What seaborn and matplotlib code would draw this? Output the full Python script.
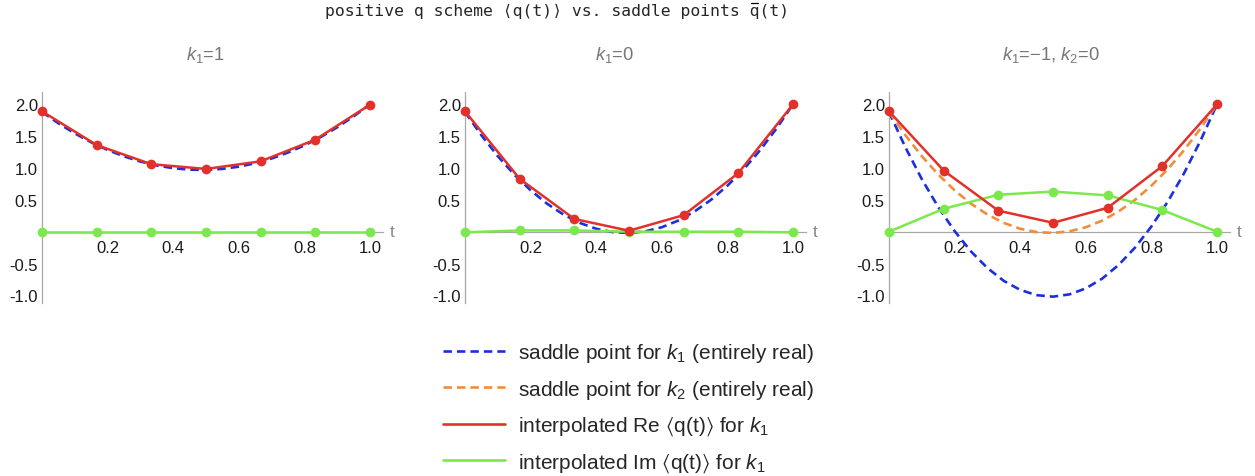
import seaborn as sns
import matplotlib.pyplot as plt
from matplotlib.lines import Line2D
from matplotlib.ticker import MultipleLocator
from matplotlib.font_manager import FontProperties

# sample times of the interpolated points
t_pts = [0.0, 1/6, 2/6, 3/6, 4/6, 5/6, 1.0]
# times for the saddle point curves
t_fine = [0.0, 0.05, 0.1, 0.15, 0.2, 0.25, 0.3, 0.35, 0.4, 0.45, 0.5,
          0.55, 0.6, 0.65, 0.7, 0.75, 0.8, 0.85, 0.9, 0.95, 1.0]

# k1 = 1
re_k1_p1 = [1.89, 1.36, 1.06, 0.985, 1.105, 1.445, 1.995]
im_k1_p1 = [-0.01, -0.01, -0.01, -0.01, -0.01, -0.01, -0.01]
saddle_k1_p1 = [1.88, 1.702, 1.543, 1.403, 1.283, 1.183, 1.101, 1.039, 0.997, 0.974, 0.970,
                0.986, 1.021, 1.075, 1.149, 1.243, 1.355, 1.487, 1.639, 1.810, 2.0]

# k1 = 0
re_k1_0 = [1.89, 0.83, 0.20, 0.015, 0.26, 0.92, 2.0]
im_k1_0 = [-0.01, 0.02, 0.02, 0.0, 0.0, 0.0, -0.01]
saddle_k1_0 = [1.88, 1.514, 1.186, 0.898, 0.650, 0.440, 0.270, 0.138, 0.046, -0.006, -0.020,
               0.006, 0.070, 0.174, 0.318, 0.500, 0.722, 0.982, 1.282, 1.622, 2.0]

# k1 = -1, k2 = 0
re_k1_m1 = [1.89, 0.96, 0.33, 0.14, 0.375, 1.03, 2.0]
im_k1_m1 = [0.0, 0.36, 0.58, 0.63, 0.57, 0.34, 0.0]
saddle_k1_m1 = [1.88, 1.324, 0.826, 0.388, 0.010, -0.310, -0.570, -0.772, -0.914, -0.996, -1.020,
                -0.984, -0.890, -0.736, -0.522, -0.250, 0.082, 0.472, 0.922, 1.432, 2.0]
saddle_k2_0 = [1.88, 1.514, 1.186, 0.898, 0.650, 0.440, 0.270, 0.138, 0.046, -0.006, -0.020,
               0.006, 0.070, 0.174, 0.318, 0.500, 0.722, 0.982, 1.282, 1.622, 2.0]

title_text = 'positive q scheme ⟨q(t)⟩ vs. saddle points q(t)'
panel_titles = [r'$k_1$=1', r'$k_1$=0', r'$k_1$=−1, $k_2$=0']
legend_labels = [r'saddle point for $k_1$ (entirely real)',
                 r'saddle point for $k_2$ (entirely real)',
                 r'interpolated Re $\langle$q(t)$\rangle$ for $k_1$',
                 r'interpolated Im $\langle$q(t)$\rangle$ for $k_1$']

BLUE = '#1a2fe0'
ORANGE = '#f08d3c'
RED = '#e2312a'
GREEN = '#7be84c'
AXC = '#a8a8a8'

sns.set_style('white')
plt.rcParams['font.family'] = ['Liberation Sans', 'DejaVu Sans']
plt.rcParams['mathtext.fontset'] = 'custom'
plt.rcParams['mathtext.rm'] = 'Liberation Sans'
plt.rcParams['mathtext.it'] = 'Liberation Sans:italic'
plt.rcParams['mathtext.fallback'] = 'stixsans'
plt.rcParams['axes.unicode_minus'] = False

fig = plt.figure(figsize=(12.55, 4.77), dpi=100)
W, H = 1255, 477

lefts = [42, 465, 889]
title_x = [205, 615, 1051]
panels = [
    (re_k1_p1, im_k1_p1, saddle_k1_p1, None),
    (re_k1_0, im_k1_0, saddle_k1_0, None),
    (re_k1_m1, im_k1_m1, saddle_k1_m1, saddle_k2_0),
]

xmax, ymin, ymax = 1.04, -1.12, 2.2
px_x, px_y = 328, 63.7
dash = (0, (3.2, 1.9))
for left, tx, title, (re, im, sad1, sad2) in zip(lefts, title_x, panel_titles, panels):
    w = xmax * px_x
    h = (ymax - ymin) * px_y
    bottom = 232.7 + (-ymin) * px_y
    ax = fig.add_axes([left / W, 1 - bottom / H, w / W, h / H])

    sns.lineplot(x=t_fine, y=sad1, ax=ax, color=BLUE, lw=1.9, linestyle=dash,
                 sort=False, errorbar=None, clip_on=False, zorder=3)
    if sad2 is not None:
        sns.lineplot(x=t_fine, y=sad2, ax=ax, color=ORANGE, lw=1.9, linestyle=dash,
                     sort=False, errorbar=None, clip_on=False, zorder=3)
    sns.lineplot(x=t_pts, y=im, ax=ax, color=GREEN, lw=1.8, marker='o', markersize=7,
                 markeredgewidth=0, sort=False, errorbar=None, clip_on=False, zorder=4)
    sns.lineplot(x=t_pts, y=re, ax=ax, color=RED, lw=1.8, marker='o', markersize=7,
                 markeredgewidth=0, sort=False, errorbar=None, clip_on=False, zorder=5)

    ax.set_xlim(0, xmax)
    ax.set_ylim(ymin, ymax)
    ax.spines['left'].set_position(('data', 0))
    ax.spines['bottom'].set_position(('data', 0))
    ax.spines['right'].set_visible(False)
    ax.spines['top'].set_visible(False)
    for s in ('left', 'bottom'):
        ax.spines[s].set_color(AXC)
        ax.spines[s].set_linewidth(0.9)
    ax.set_xticks([0.2, 0.4, 0.6, 0.8, 1.0])
    ax.set_yticks([-1.0, -0.5, 0.5, 1.0, 1.5, 2.0])
    ax.xaxis.set_minor_locator(MultipleLocator(0.05))
    ax.yaxis.set_minor_locator(MultipleLocator(0.1))
    ax.tick_params(which='major', direction='in', length=4, width=0.8, color=AXC,
                   labelsize=12, labelcolor='#1a1a1a', pad=3)
    ax.tick_params(which='minor', direction='in', length=2, width=0.6, color=AXC)
    ax.tick_params(axis='x', pad=6)
    ax.set_xlabel('')
    ax.set_ylabel('')
    ax.text(xmax + 0.02, 0, 't', color='#888888', fontsize=12.5, va='center', ha='left',
            transform=ax.transData)
    fig.text(tx / W, 1 - 55 / H, title, color='#777777', fontsize=13.2,
             ha='center', va='center')
    ax.patch.set_alpha(0)

# monospaced title; the bar over the last q is a short line placed by character width
mono = ['DejaVu Sans Mono', 'DejaVu Sans']
ttl = fig.text(325 / W, 1 - 11 / H, title_text, family=mono, fontsize=11.8,
               ha='left', va='center')
renderer = fig.canvas.get_renderer()
bb = ttl.get_window_extent(renderer)
cw = bb.width / len(title_text)
q0 = bb.x0 + title_text.rindex('q') * cw
fig.add_artist(Line2D([(q0 + 0.15 * cw) / W, (q0 + 0.85 * cw) / W], [1 - 4 / H, 1 - 4 / H],
                      transform=fig.transFigure, color='black', lw=0.9))

handles = [
    Line2D([], [], color=BLUE, lw=1.9, linestyle=dash),
    Line2D([], [], color=ORANGE, lw=1.9, linestyle=dash),
    Line2D([], [], color=RED, lw=1.9),
    Line2D([], [], color=GREEN, lw=1.9),
]
fig.legend(handles, legend_labels, loc='upper left', bbox_to_anchor=(443 / W, 1 - 342 / H),
           frameon=False, prop=FontProperties(family=['Liberation Sans', 'DejaVu Sans'], size=15),
           handlelength=3.0, handletextpad=0.62, labelspacing=0.66, borderpad=0, borderaxespad=0)

fig.savefig('out.png', dpi=100)
